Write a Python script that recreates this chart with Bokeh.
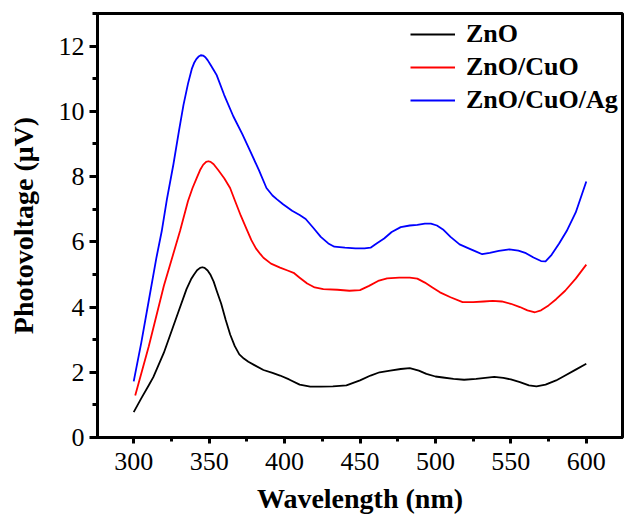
from bokeh.plotting import figure
from bokeh.models import Range1d, SingleIntervalTicker, Legend, LegendItem
from bokeh.embed import file_html
from bokeh.resources import INLINE

# ---- data ----
x_zno = [300, 305, 310, 313, 320, 326, 330, 335, 338, 340, 342, 344, 345.5, 347, 349, 351, 353, 355, 358, 361,
         364, 367, 370, 373, 376, 380, 386, 392, 397, 403, 410, 417, 424, 432, 441, 450, 457, 463, 470, 477,
         483, 489, 494, 500, 505, 512, 519, 527, 533, 539, 545, 550, 556, 562, 567, 573, 580, 586, 593, 600]
y_zno = [0.78, 1.2, 1.6, 1.85, 2.6, 3.38, 3.9, 4.55, 4.85, 5.0, 5.13, 5.2, 5.22, 5.2, 5.12, 4.98, 4.78, 4.5, 4.1, 3.6,
         3.15, 2.8, 2.55, 2.42, 2.32, 2.22, 2.07, 1.98, 1.9, 1.78, 1.62, 1.56, 1.56, 1.57, 1.6, 1.75, 1.9, 2.0, 2.05, 2.1,
         2.13, 2.05, 1.95, 1.87, 1.84, 1.8, 1.77, 1.8, 1.83, 1.86, 1.83, 1.78, 1.7, 1.6, 1.57, 1.62, 1.75, 1.9, 2.08, 2.26]

x_cuo = [301, 310, 320, 330.7, 336, 339, 341.8, 344, 346, 348, 349.5, 351, 353, 356, 360, 363.9, 367.2, 371, 374.9, 378,
         381, 384, 386, 391, 397, 402, 406, 410, 415, 420, 425.7, 435, 443, 450, 456, 462, 468, 476, 483, 488,
         493, 498, 503, 510, 518, 525, 532, 538, 544, 550, 556, 561, 566, 570, 575, 580, 586, 593, 600]
y_cuo = [1.29, 2.8, 4.65, 6.33, 7.25, 7.65, 7.96, 8.2, 8.36, 8.45, 8.47, 8.45, 8.38, 8.2, 7.95, 7.65, 7.25, 6.8, 6.38, 6.05,
         5.8, 5.62, 5.51, 5.33, 5.21, 5.12, 5.05, 4.9, 4.72, 4.6, 4.55, 4.53, 4.5, 4.52, 4.65, 4.8, 4.88, 4.9, 4.9, 4.87,
         4.75, 4.6, 4.45, 4.3, 4.15, 4.15, 4.17, 4.19, 4.17, 4.1, 4.0, 3.9, 3.84, 3.9, 4.05, 4.24, 4.5, 4.87, 5.3]

x_ag = [300, 305, 310, 315, 318.6, 322, 326.3, 330, 333, 336, 338.5, 340, 341.5, 343, 344.5, 346, 347.5, 349, 351, 353,
        355, 360, 366, 372, 377, 383, 388, 392, 395, 399, 405, 410, 414, 419, 424, 429, 433, 440, 447, 453,
        457, 461, 466, 471, 477, 483, 488, 493, 497, 501, 505, 510, 516, 522, 527, 531, 536, 542, 549, 555,
        560, 565, 570, 573, 577, 582, 587, 593, 600]
y_ag = [1.72, 2.9, 4.2, 5.5, 6.33, 7.3, 8.37, 9.4, 10.2, 10.85, 11.3, 11.48, 11.6, 11.68, 11.72, 11.71, 11.66, 11.57, 11.42, 11.27,
        11.11, 10.5, 9.85, 9.3, 8.8, 8.2, 7.65, 7.42, 7.3, 7.15, 6.95, 6.82, 6.7, 6.43, 6.15, 5.95, 5.85, 5.82, 5.8, 5.8,
        5.82, 5.95, 6.1, 6.3, 6.45, 6.5, 6.52, 6.56, 6.56, 6.5, 6.38, 6.15, 5.92, 5.8, 5.7, 5.62, 5.66, 5.72, 5.77, 5.73,
        5.65, 5.52, 5.41, 5.4, 5.6, 5.95, 6.33, 6.9, 7.85]

labels = ["ZnO", "ZnO/CuO", "ZnO/CuO/Ag"]
colors = ["black", "red", "blue"]

x_label = "Wavelength (nm)"
y_label = "Photovoltage (μV)"

FONT = "Liberation Serif"

p = figure(width=624, height=519, output_backend="svg", toolbar_location=None,
           x_range=Range1d(276, 624), y_range=Range1d(0, 13),
           min_border_left=97, min_border_right=2, min_border_top=13, min_border_bottom=82)
p.background_fill_color = "white"
p.border_fill_color = "white"
p.xgrid.visible = False
p.ygrid.visible = False
p.outline_line_color = "black"
p.outline_line_width = 3

r1 = p.line(x_zno, y_zno, line_color=colors[0], line_width=1.8, line_join="round")
r2 = p.line(x_cuo, y_cuo, line_color=colors[1], line_width=1.8, line_join="round")
r3 = p.line(x_ag, y_ag, line_color=colors[2], line_width=1.8, line_join="round")

p.xaxis.ticker = SingleIntervalTicker(interval=50, num_minor_ticks=2)
p.yaxis.ticker = SingleIntervalTicker(interval=2, num_minor_ticks=2)

for ax in (p.xaxis[0], p.yaxis[0]):
    ax.axis_line_width = 3
    ax.axis_line_color = "black"
    ax.major_tick_line_width = 3
    ax.minor_tick_line_width = 3
    ax.major_tick_in = 0
    ax.minor_tick_in = 0
    ax.major_label_text_font = FONT
    ax.major_label_text_font_size = "26px"
    ax.major_label_text_color = "black"
    ax.axis_label_text_font = FONT
    ax.axis_label_text_font_style = "bold"
    ax.axis_label_text_font_size = "28px"
    ax.axis_label_text_color = "black"

p.xaxis.major_tick_out = 6
p.xaxis.minor_tick_out = 4
p.yaxis.major_tick_out = 8
p.yaxis.minor_tick_out = 5
p.xaxis.major_label_standoff = 9
p.yaxis.major_label_standoff = 5
p.xaxis.axis_label = x_label
p.yaxis.axis_label = y_label
p.xaxis.axis_label_standoff = 10
p.yaxis.axis_label_standoff = 17

legend = Legend(items=[LegendItem(label=labels[0], renderers=[r1]),
                       LegendItem(label=labels[1], renderers=[r2]),
                       LegendItem(label=labels[2], renderers=[r3])],
                location=(313, 322))
legend.border_line_color = None
legend.background_fill_alpha = 0
legend.padding = 0
legend.margin = 0
legend.spacing = 3
legend.glyph_width = 45
legend.glyph_height = 20
legend.label_height = 20
legend.label_standoff = 11
legend.label_text_font = FONT
legend.label_text_font_style = "bold"
legend.label_text_font_size = "26px"
legend.label_text_color = "black"
p.add_layout(legend)

open("out.html", "w").write(file_html(p, INLINE))
